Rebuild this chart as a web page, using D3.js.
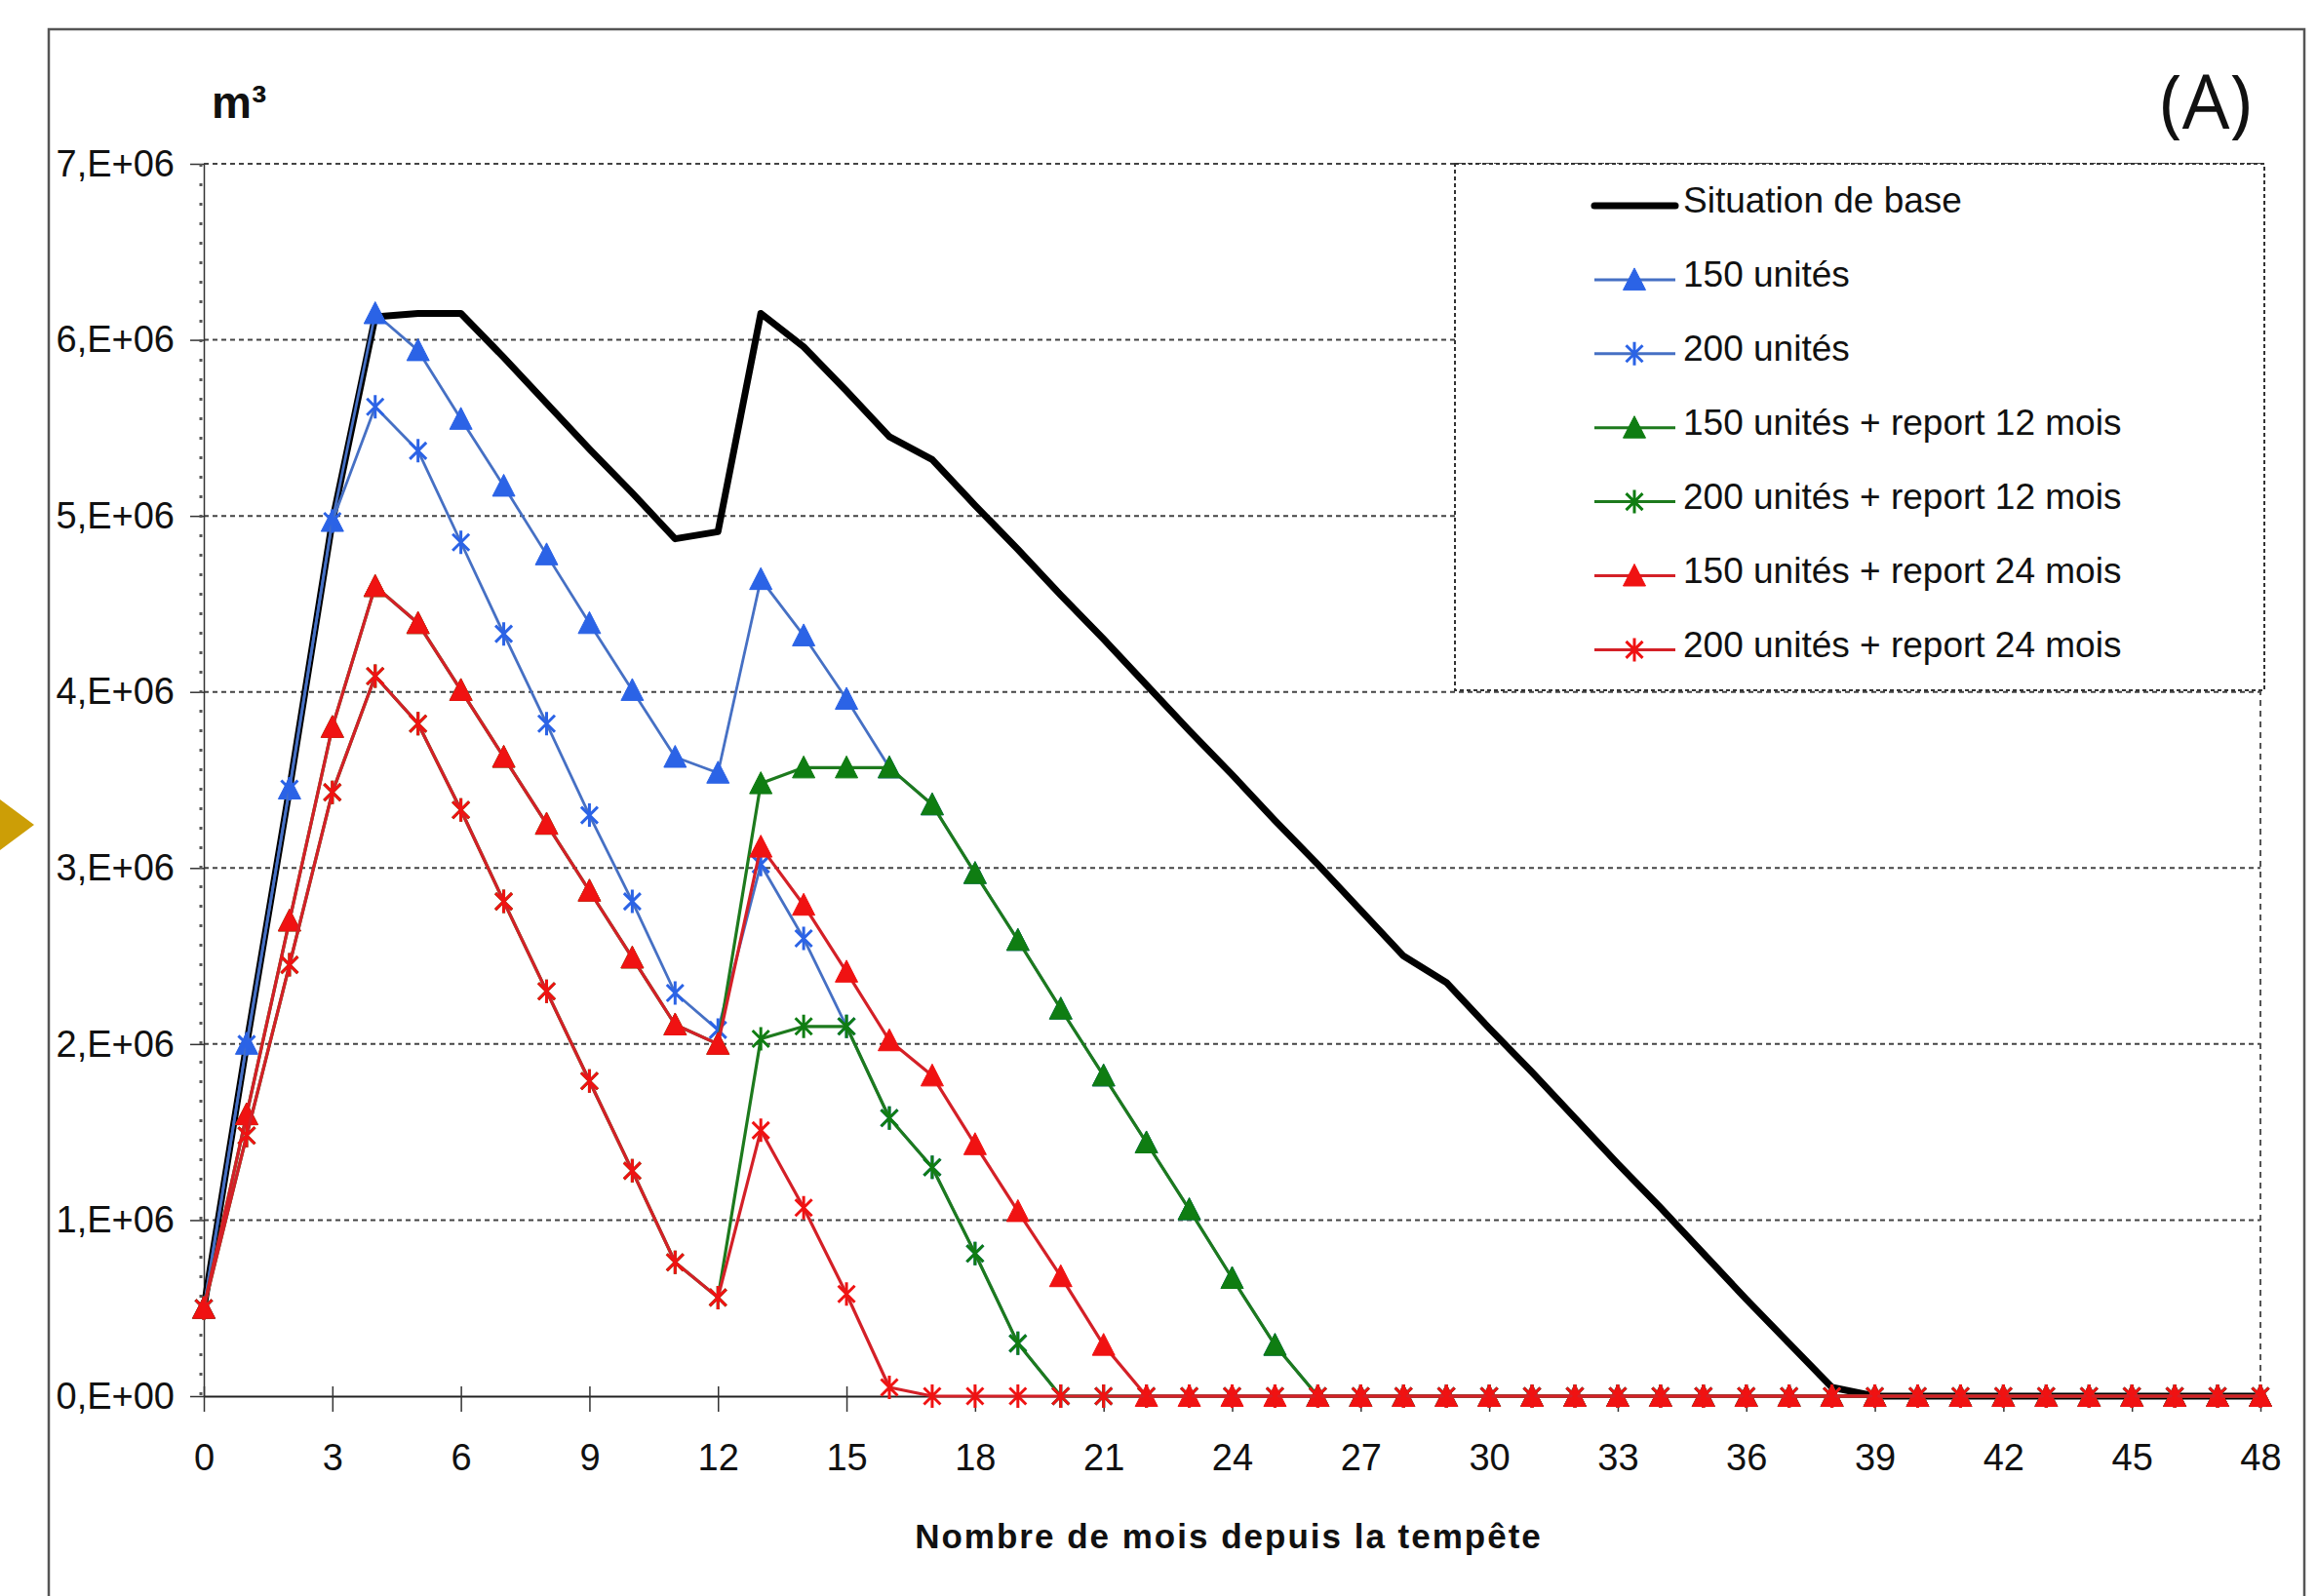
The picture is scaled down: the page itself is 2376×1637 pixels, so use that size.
<!doctype html>
<html lang="fr">
<head>
    <meta charset="utf-8">
    <script src="https://d3js.org/d3.v7.min.js"></script>
    <style>
        body { margin: 0; background: #fff; }
        text { font-family: "Liberation Sans", Arial, sans-serif; fill: #111; }
    </style>
    <title>Stock de bois - scénarios</title>
</head>
<body>
<script>

    // months since the storm (x categories)
    var months = [0, 1, 2, 3, 4, 5, 6, 7, 8, 9,
        10, 11, 12, 13, 14, 15, 16, 17, 18, 19,
        20, 21, 22, 23, 24, 25, 26, 27, 28, 29,
        30, 31, 32, 33, 34, 35, 36, 37, 38, 39,
        40, 41, 42, 43, 44, 45, 46, 47, 48];

    // values in millions of m3
    var base = [0.50, 2.00, 3.45, 4.97, 6.13, 6.15, 6.15, 5.90, 5.64, 5.38,
        5.13, 4.87, 4.91, 6.15, 5.96, 5.71, 5.45, 5.32, 5.06, 4.81,
        4.55, 4.30, 4.04, 3.78, 3.53, 3.27, 3.02, 2.76, 2.50, 2.35,
        2.09, 1.84, 1.58, 1.32, 1.07, 0.81, 0.55, 0.30, 0.05, 0,
        0, 0, 0, 0, 0, 0, 0, 0, 0];

    var u150 = [0.50, 2.00, 3.45, 4.97, 6.15, 5.94, 5.55, 5.17, 4.78, 4.39,
        4.01, 3.63, 3.54, 4.64, 4.32, 3.96, 3.57, 3.36, 2.97, 2.59,
        2.20, 1.82, 1.44, 1.06, 0.67, 0.29, 0, 0, 0, 0,
        0, 0, 0, 0, 0, 0, 0, 0, 0, 0,
        0, 0, 0, 0, 0, 0, 0, 0, 0];

    var u200 = [0.50, 2.00, 3.45, 4.97, 5.62, 5.37, 4.85, 4.33, 3.82, 3.30,
        2.81, 2.29, 2.08, 3.02, 2.60, 2.10, 1.58, 1.30, 0.81, 0.30,
        0, 0, 0, 0, 0, 0, 0, 0, 0, 0,
        0, 0, 0, 0, 0, 0, 0, 0, 0, 0,
        0, 0, 0, 0, 0, 0, 0, 0, 0];

    var u150r12 = [0.50, 1.60, 2.70, 3.80, 4.60, 4.39, 4.01, 3.63, 3.25, 2.87,
        2.49, 2.11, 2.00, 3.48, 3.57, 3.57, 3.57, 3.36, 2.97, 2.59,
        2.20, 1.82, 1.44, 1.06, 0.67, 0.29, 0, 0, 0, 0,
        0, 0, 0, 0, 0, 0, 0, 0, 0, 0,
        0, 0, 0, 0, 0, 0, 0, 0, 0];

    var u200r12 = [0.50, 1.48, 2.45, 3.43, 4.09, 3.82, 3.33, 2.81, 2.30, 1.79,
        1.28, 0.76, 0.56, 2.03, 2.10, 2.10, 1.58, 1.30, 0.81, 0.30,
        0, 0, 0, 0, 0, 0, 0, 0, 0, 0,
        0, 0, 0, 0, 0, 0, 0, 0, 0, 0,
        0, 0, 0, 0, 0, 0, 0, 0, 0];

    var u150r24 = [0.50, 1.60, 2.70, 3.80, 4.60, 4.39, 4.01, 3.63, 3.25, 2.87,
        2.49, 2.11, 2.00, 3.12, 2.79, 2.41, 2.02, 1.82, 1.43, 1.05,
        0.68, 0.29, 0, 0, 0, 0, 0, 0, 0, 0,
        0, 0, 0, 0, 0, 0, 0, 0, 0, 0,
        0, 0, 0, 0, 0, 0, 0, 0, 0];

    var u200r24 = [0.50, 1.48, 2.45, 3.43, 4.09, 3.82, 3.33, 2.81, 2.30, 1.79,
        1.28, 0.76, 0.56, 1.51, 1.07, 0.58, 0.05, 0, 0, 0,
        0, 0, 0, 0, 0, 0, 0, 0, 0, 0,
        0, 0, 0, 0, 0, 0, 0, 0, 0, 0,
        0, 0, 0, 0, 0, 0, 0, 0, 0];

    var seriesNames = ["Situation de base", "150 unités", "200 unités",
        "150 unités + report 12 mois", "200 unités + report 12 mois",
        "150 unités + report 24 mois", "200 unités + report 24 mois"];

    // tick values and labels
    var yTicks = [0, 1, 2, 3, 4, 5, 6, 7];
    var yTickLabels = ["0,E+00", "1,E+06", "2,E+06", "3,E+06", "4,E+06", "5,E+06", "6,E+06", "7,E+06"];
    var xTicks = [0, 3, 6, 9, 12, 15, 18, 21, 24, 27, 30, 33, 36, 39, 42, 45, 48];

    // styles per series
    var series = [
        {name: seriesNames[0], values: base, line: "#000", marker: null, fill: "#000", width: 7},
        {name: seriesNames[1], values: u150, line: "#4670c4", marker: "tri", fill: "#2b63e6", width: 2.8},
        {name: seriesNames[2], values: u200, line: "#4670c4", marker: "star", fill: "#2b63e6", width: 2.8},
        {name: seriesNames[3], values: u150r12, line: "#1d7a1d", marker: "tri", fill: "#0f7d12", width: 3.2},
        {name: seriesNames[4], values: u200r12, line: "#1d7a1d", marker: "star", fill: "#0f7d12", width: 3.2},
        {name: seriesNames[5], values: u150r24, line: "#d42027", marker: "tri", fill: "#f01212", width: 3.2},
        {name: seriesNames[6], values: u200r24, line: "#d42027", marker: "star", fill: "#f01212", width: 3.2}
    ];

    var W = 2376, H = 1637;
    var plot = {left: 209, right: 2318, top: 168, bottom: 1432};

    var svg = d3.select("body").append("svg")
        .attr("width", W)
        .attr("height", H);

    svg.append("rect").attr("width", W).attr("height", H).attr("fill", "#fff");

    // little gold arrow on the left border
    svg.append("polygon")
        .attr("points", "0,820 35,846 0,872")
        .attr("fill", "#cc9e06");

    // outer frame
    svg.append("rect")
        .attr("x", 50).attr("y", 30)
        .attr("width", 2313).attr("height", 1700)
        .attr("fill", "none")
        .attr("stroke", "#555")
        .attr("stroke-width", 2.5);

    var x = d3.scaleLinear().domain([0, 48]).range([plot.left, plot.right]);
    var y = d3.scaleLinear().domain([0, 7]).range([plot.bottom, plot.top]);

    // horizontal dashed grid
    svg.append("g").selectAll("line")
        .data(yTicks.filter(function(d) { return d > 0; }))
        .enter().append("line")
        .attr("x1", x(0)).attr("x2", x(48))
        .attr("y1", function(d) { return y(d); })
        .attr("y2", function(d) { return y(d); })
        .attr("stroke", "#444")
        .attr("stroke-width", 2)
        .attr("stroke-dasharray", "5,4");

    // right border of plot area
    svg.append("line")
        .attr("x1", x(48)).attr("x2", x(48))
        .attr("y1", y(7)).attr("y2", y(0))
        .attr("stroke", "#555")
        .attr("stroke-width", 2)
        .attr("stroke-dasharray", "6,5");

    // y axis
    var yAxis = svg.append("g")
        .attr("transform", "translate(" + plot.left + ",0)")
        .call(d3.axisLeft(y)
            .tickValues(yTicks)
            .tickFormat(function(d, i) { return yTickLabels[i]; })
            .tickSize(14)
            .tickSizeOuter(0)
            .tickPadding(16));
    yAxis.select(".domain").attr("stroke", "#333").attr("stroke-width", 1.5);
    yAxis.selectAll(".tick line").attr("stroke", "#333").attr("stroke-width", 1.5);
    yAxis.selectAll("text")
        .style("font-size", "38px")
        .attr("fill", "#111");

    // small marks along the y axis
    svg.append("line")
        .attr("x1", plot.left - 3).attr("x2", plot.left - 3)
        .attr("y1", y(7)).attr("y2", y(0))
        .attr("stroke", "#555")
        .attr("stroke-width", 3)
        .attr("stroke-dasharray", "3,17");

    // x axis
    var xAxis = svg.append("g")
        .attr("transform", "translate(0," + plot.bottom + ")")
        .call(d3.axisBottom(x)
            .tickValues(xTicks)
            .tickFormat(d3.format("d"))
            .tickSize(16)
            .tickSizeOuter(0));
    xAxis.select(".domain").attr("stroke", "#222").attr("stroke-width", 2);
    xAxis.selectAll(".tick line")
        .attr("y1", -10).attr("y2", 16)
        .attr("stroke", "#333").attr("stroke-width", 1.5);
    xAxis.selectAll("text")
        .attr("y", 76).attr("dy", 0)
        .style("font-size", "38px")
        .attr("fill", "#111");

    // marker shapes
    function markerPath(type) {
        if (type === "tri") return "M0,-12L11.5,10.5L-11.5,10.5Z";
        if (type === "star") return "M-8.5,-8.5L8.5,8.5M-8.5,8.5L8.5,-8.5M0,-12L0,12";
        return "";
    }

    var line = d3.line()
        .x(function(d, i) { return x(months[i]); })
        .y(function(d) { return y(d); });

    series.forEach(function(s) {
        var g = svg.append("g");
        g.append("path")
            .datum(s.values)
            .attr("d", line)
            .attr("fill", "none")
            .attr("stroke", s.line)
            .attr("stroke-width", s.width)
            .attr("stroke-linejoin", "round");
        if (s.marker) {
            g.selectAll(".mk")
                .data(s.values)
                .enter().append("path")
                .attr("class", "mk")
                .attr("transform", function(d, i) { return "translate(" + x(months[i]) + "," + y(d) + ")"; })
                .attr("d", markerPath(s.marker))
                .attr("fill", s.marker === "tri" ? s.fill : "none")
                .attr("stroke", s.fill)
                .attr("stroke-width", s.marker === "tri" ? 1 : 3);
        }
    });

    // legend
    var lg = {x: 1492, y: 168, w: 830, h: 540};
    svg.append("rect")
        .attr("x", lg.x).attr("y", lg.y)
        .attr("width", lg.w).attr("height", lg.h)
        .attr("fill", "#fff")
        .attr("stroke", "#333")
        .attr("stroke-width", 2)
        .attr("stroke-dasharray", "4,3");

    var items = svg.append("g").selectAll("g")
        .data(series)
        .enter().append("g")
        .attr("transform", function(d, i) { return "translate(0," + (205 + i * 75.9) + ")"; });

    items.append("line")
        .attr("x1", 1635).attr("x2", 1718)
        .attr("y1", 6).attr("y2", 6)
        .attr("stroke", function(d) { return d.line; })
        .attr("stroke-width", function(d) { return d.marker ? 3 : 7; })
        .attr("stroke-linecap", function(d) { return d.marker ? "butt" : "round"; });

    items.filter(function(d) { return d.marker; })
        .append("path")
        .attr("transform", "translate(1676,6)")
        .attr("d", function(d) { return markerPath(d.marker); })
        .attr("fill", function(d) { return d.marker === "tri" ? d.fill : "none"; })
        .attr("stroke", function(d) { return d.fill; })
        .attr("stroke-width", function(d) { return d.marker === "tri" ? 1 : 3; });

    items.append("text")
        .attr("x", 1726)
        .attr("dy", "0.36em")
        .style("font-size", "37px")
        .text(function(d) { return d.name; });

    // texts
    svg.append("text")
        .attr("x", 217).attr("y", 121)
        .style("font-size", "46px")
        .style("font-weight", "bold")
        .text("m³");

    svg.append("text")
        .attr("x", 2262).attr("y", 132)
        .attr("text-anchor", "middle")
        .style("font-family", "'Open Sans', sans-serif")
        .style("font-size", "77px")
        .text("(A)");

    svg.append("text")
        .attr("x", 1260).attr("y", 1588)
        .attr("text-anchor", "middle")
        .style("font-size", "35px")
        .style("font-weight", "bold")
        .style("letter-spacing", "2px")
        .text("Nombre de mois depuis la tempête");

</script>
</body>
</html>
